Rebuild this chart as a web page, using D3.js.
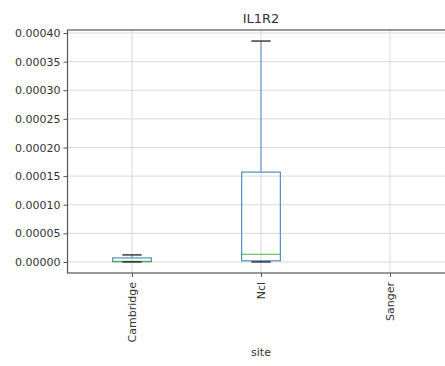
<!DOCTYPE html>
<html>
<head>
<meta charset="utf-8">
<script src="https://cdn.jsdelivr.net/npm/d3@7"></script>
<style>
  body { margin: 0; background: #fff; }
  svg { display: block; }
</style>
</head>
<body>
<div id="chart"></div>
<script>
// box stats per site (Sanger has no values)
const sites = ["Cambridge", "Ncl", "Sanger"];
const whiskerLow = [0.0, 0.0, null];
const q1 = [0.0000005, 0.000002, null];
const median = [0.000001, 0.0000135, null];
const q3 = [0.000007, 0.000157, null];
const whiskerHigh = [0.0000123, 0.000386, null];
const yTicks = [0, 0.00005, 0.0001, 0.00015, 0.0002, 0.00025, 0.0003, 0.00035, 0.0004];

const width = 445, height = 366;
const margin = {left: 67.5, top: 30, bottom: 93};
const plotRight = 454.5; // axes run past the right edge of the picture

const svg = d3.select("#chart").append("svg")
    .attr("width", width)
    .attr("height", height)
    .attr("font-family", "DejaVu Sans, sans-serif");

const x = d3.scaleLinear().domain([0.5, sites.length + 0.5]).range([margin.left, plotRight]);

const lo = d3.min(whiskerLow), hi = d3.max(whiskerHigh);
const pad = (hi - lo) * 0.05;
const y = d3.scaleLinear().domain([lo - pad, hi + pad]).range([height - margin.bottom, margin.top]);

const textColor = "#333";

// grid
svg.append("g")
  .selectAll("line")
  .data(yTicks)
  .join("line")
    .attr("x1", margin.left).attr("x2", plotRight)
    .attr("y1", d => y(d)).attr("y2", d => y(d))
    .attr("stroke", "#d9d9d9").attr("stroke-width", 1);
svg.append("g")
  .selectAll("line")
  .data(sites)
  .join("line")
    .attr("x1", (d, i) => x(i + 1)).attr("x2", (d, i) => x(i + 1))
    .attr("y1", margin.top).attr("y2", height - margin.bottom)
    .attr("stroke", "#d9d9d9").attr("stroke-width", 1);

// boxes
const boxW = x(1.3) - x(1);
const capW = boxW / 2;
const stats = sites.map((s, i) => ({site: s, pos: i + 1, lo: whiskerLow[i], q1: q1[i], med: median[i], q3: q3[i], hi: whiskerHigh[i]}))
  .filter(d => d.q1 !== null);

const g = svg.append("g").selectAll("g").data(stats).join("g");
g.append("line") // lower whisker
    .attr("x1", d => x(d.pos)).attr("x2", d => x(d.pos))
    .attr("y1", d => y(d.lo)).attr("y2", d => y(d.q1))
    .attr("stroke", "#1f77b4");
g.append("line") // upper whisker
    .attr("x1", d => x(d.pos)).attr("x2", d => x(d.pos))
    .attr("y1", d => y(d.q3)).attr("y2", d => y(d.hi))
    .attr("stroke", "#4f8fc0");
g.append("rect")
    .attr("x", d => x(d.pos) - boxW / 2)
    .attr("width", boxW)
    .attr("y", d => y(d.q3))
    .attr("height", d => Math.max(y(d.q1) - y(d.q3), 0))
    .attr("fill", "none")
    .attr("stroke", "#4f8fc0").attr("stroke-width", 1.2);
g.append("line")
    .attr("x1", d => x(d.pos) - boxW / 2).attr("x2", d => x(d.pos) + boxW / 2)
    .attr("y1", d => y(d.med)).attr("y2", d => y(d.med))
    .attr("stroke", "#4caf50").attr("stroke-width", 1.2);
g.selectAll(".cap")
  .data(d => [d.lo, d.hi].map(v => ({pos: d.pos, v})))
  .join("line")
    .attr("class", "cap")
    .attr("x1", d => x(d.pos) - capW / 2).attr("x2", d => x(d.pos) + capW / 2)
    .attr("y1", d => y(d.v)).attr("y2", d => y(d.v))
    .attr("stroke", "#222").attr("stroke-width", 1.3);

// axes
const yAxis = svg.append("g")
    .attr("transform", `translate(${margin.left},0)`)
    .call(d3.axisLeft(y).tickValues(yTicks).tickFormat(d3.format(".5f")).tickSize(4).tickPadding(3));
yAxis.select(".domain").remove();
yAxis.selectAll("line").attr("stroke", "#555");
yAxis.selectAll("text").attr("font-size", 11).attr("fill", textColor).attr("font-family", "DejaVu Sans, sans-serif");

const xAxis = svg.append("g")
    .attr("transform", `translate(0,${height - margin.bottom})`)
    .call(d3.axisBottom(x).tickValues(sites.map((s, i) => i + 1)).tickFormat((d, i) => sites[i]).tickSize(4));
xAxis.select(".domain").remove();
xAxis.selectAll("line").attr("stroke", "#555");
xAxis.selectAll("text")
    .attr("font-size", 11).attr("fill", textColor).attr("font-family", "DejaVu Sans, sans-serif")
    .attr("transform", "rotate(-90)")
    .attr("text-anchor", "end")
    .attr("x", -9).attr("y", 0).attr("dy", "0.35em");

// spines
svg.append("rect")
    .attr("x", margin.left).attr("y", margin.top)
    .attr("width", plotRight - margin.left)
    .attr("height", height - margin.bottom - margin.top)
    .attr("fill", "none").attr("stroke", "#555").attr("stroke-width", 1.2);

svg.append("text")
    .attr("x", (margin.left + plotRight) / 2).attr("y", 23)
    .attr("text-anchor", "middle").attr("font-size", 13).attr("fill", textColor)
    .text("IL1R2");

svg.append("text")
    .attr("x", x(2)).attr("y", 356)
    .attr("text-anchor", "middle").attr("font-size", 11).attr("fill", textColor)
    .text("site");
</script>
</body>
</html>
